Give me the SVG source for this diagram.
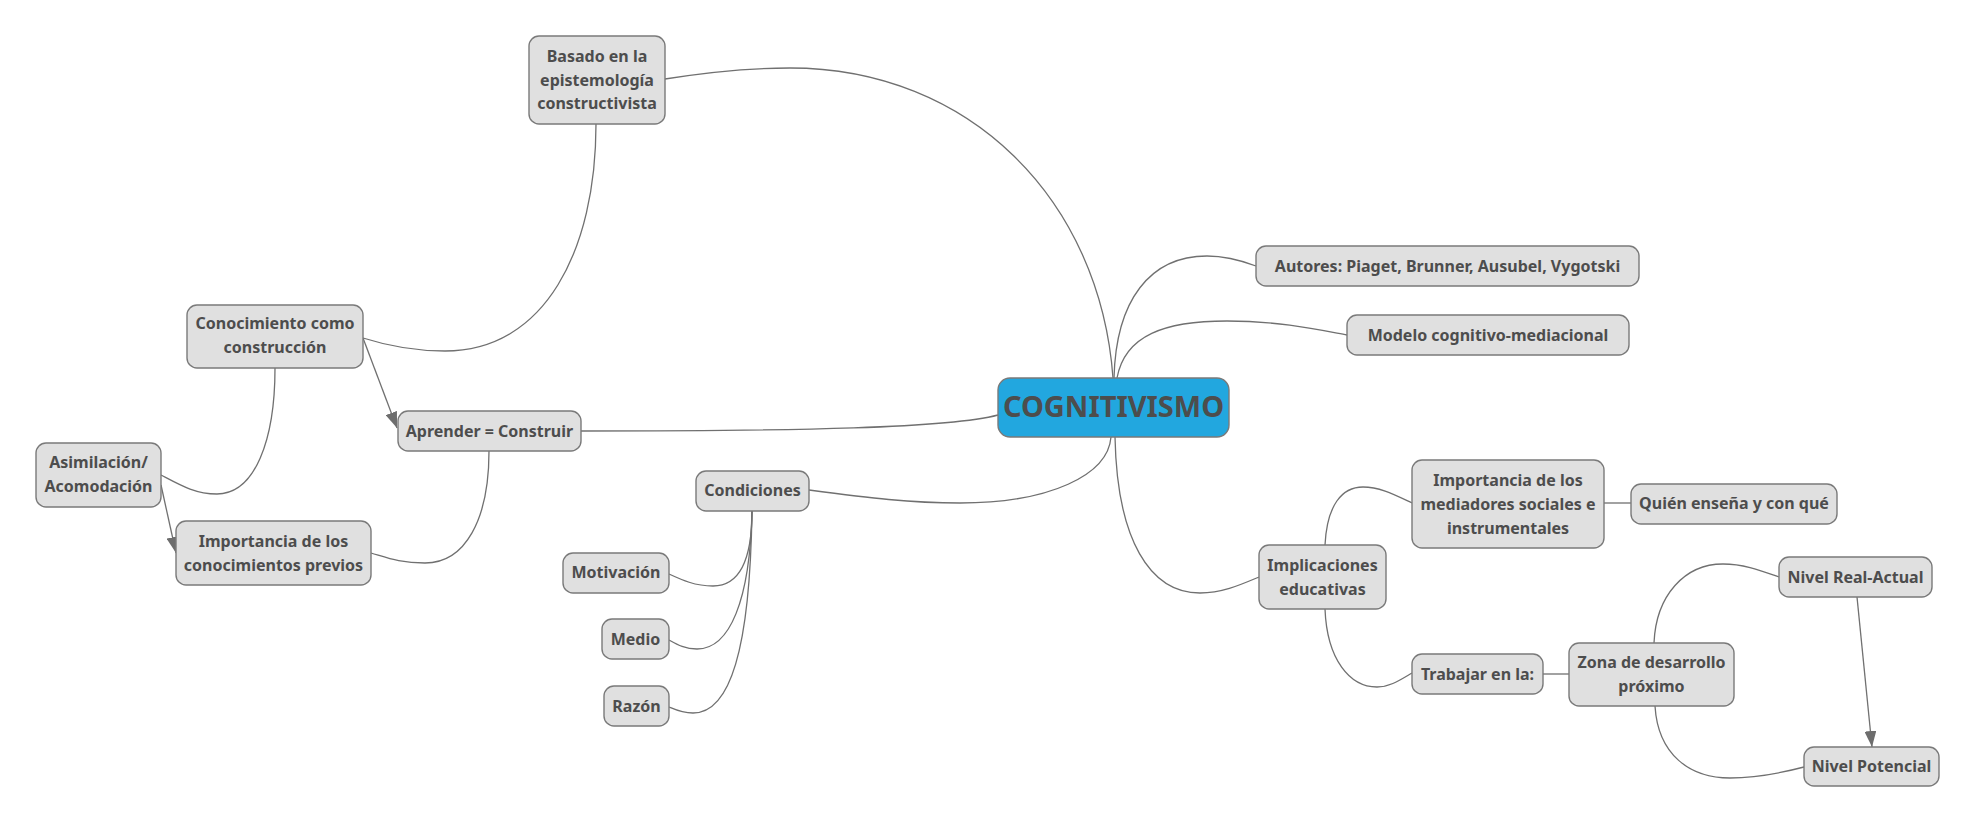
<svg xmlns="http://www.w3.org/2000/svg" width="1978" height="823" viewBox="0 0 1978 823">
<style>
.n rect{fill:#e0e0e0;stroke:#7a7a7a;stroke-width:1.4}
.n text{font-family:"Noto Sans","Open Sans","DejaVu Sans",sans-serif;font-weight:bold;font-size:16px;fill:#4d4d4d;text-anchor:middle}
#center rect{fill:#22a7df}
#center text{font-size:29px}
.c path{fill:none;stroke:#707070;stroke-width:1.3}
</style>
<defs>
<marker id="ah" viewBox="0 0 16 12" markerWidth="16" markerHeight="12" refX="16" refY="6" orient="auto" markerUnits="userSpaceOnUse">
<path d="M0,0 L16,6 L0,12 z" fill="#6d6d6d"/>
</marker>
</defs>
<rect width="1978" height="823" fill="#ffffff"/>
<g class="c" id="connectors">
<path d="M665,79 C715,71 750,68 790,68 C970,68 1100,200 1113,378"/>
<path d="M1114,378 C1116,300 1150,256 1207,256 C1225,256 1240,260 1256,266"/>
<path d="M1117,378 C1125,335 1165,321 1227,321 C1280,321 1320,330 1347,335"/>
<path d="M581,431 C800,431 950,428 998,415"/>
<path d="M596,124 C596,250 545,351 445,351 C410,351 385,345 363,338"/>
<path d="M275,368 C275,440 255,494 217,494 C195,494 180,485 161,475"/>
<path d="M489,451 C489,520 465,563 425,563 C400,563 388,558 371,553"/>
<path d="M809,490 C870,498 910,503 960,503 C1050,503 1108,475 1111,437"/>
<path d="M752,511 C752,560 740,586 713,586 C695,586 682,580 669,574"/>
<path d="M752,511 C750,600 730,649 697,649 C685,649 678,645 669,640"/>
<path d="M752,511 C750,650 730,713 693,713 C682,713 676,710 669,707"/>
<path d="M1115,437 C1117,540 1150,593 1200,593 C1222,593 1240,585 1259,577"/>
<path d="M1325,545 C1327,505 1342,487 1363,487 C1380,487 1395,495 1412,503"/>
<path d="M1325,609 C1327,660 1350,687 1377,687 C1390,687 1400,680 1412,673"/>
<path d="M1604,503 L1631,503"/>
<path d="M1543,674 L1569,674"/>
<path d="M1654,643 C1656,595 1685,564 1723,564 C1745,564 1762,571 1779,577"/>
<path d="M1655,706 C1658,755 1690,778 1730,778 C1760,778 1785,772 1804,767"/>
<path d="M363,338 L397,428" marker-end="url(#ah)"/>
<path d="M161,485 L176,553" marker-end="url(#ah)"/>
<path d="M1857,597 L1872,747" marker-end="url(#ah)"/>
</g>
<g class="n" id="center"><rect x="998" y="378" width="231" height="59" rx="12"/><text x="1113.5" y="416.5">COGNITIVISMO</text></g>
<g class="n" id="basado"><rect x="529" y="36" width="136" height="88" rx="10"/><text x="597" y="61.5">Basado en la</text><text x="597" y="85.5">epistemología</text><text x="597" y="108.5">constructivista</text></g>
<g class="n" id="autores"><rect x="1256" y="246" width="383" height="40" rx="10"/><text x="1447.5" y="271.5">Autores: Piaget, Brunner, Ausubel, Vygotski</text></g>
<g class="n" id="modelo"><rect x="1347" y="315" width="282" height="40" rx="10"/><text x="1488" y="340.5">Modelo cognitivo-mediacional</text></g>
<g class="n" id="conocimiento"><rect x="187" y="305" width="176" height="63" rx="10"/><text x="275" y="329">Conocimiento como</text><text x="275" y="353">construcción</text></g>
<g class="n" id="aprender"><rect x="398" y="411" width="183" height="40" rx="10"/><text x="489.5" y="436.5">Aprender = Construir</text></g>
<g class="n" id="asimilacion"><rect x="36" y="443" width="125" height="64" rx="10"/><text x="98.5" y="468">Asimilación/</text><text x="98.5" y="492">Acomodación</text></g>
<g class="n" id="previos"><rect x="176" y="521" width="195" height="64" rx="10"/><text x="273.5" y="546.5">Importancia de los</text><text x="273.5" y="570.5">conocimientos previos</text></g>
<g class="n" id="condiciones"><rect x="696" y="471" width="113" height="40" rx="10"/><text x="752.5" y="495.5">Condiciones</text></g>
<g class="n" id="motivacion"><rect x="563" y="553" width="106" height="40" rx="10"/><text x="616" y="578">Motivación</text></g>
<g class="n" id="medio"><rect x="602" y="619" width="67" height="40" rx="10"/><text x="635.5" y="644.5">Medio</text></g>
<g class="n" id="razon"><rect x="604" y="686" width="65" height="40" rx="10"/><text x="636.5" y="711.5">Razón</text></g>
<g class="n" id="implicaciones"><rect x="1259" y="545" width="127" height="64" rx="10"/><text x="1322.5" y="570.5">Implicaciones</text><text x="1322.5" y="594.5">educativas</text></g>
<g class="n" id="mediadores"><rect x="1412" y="460" width="192" height="88" rx="10"/><text x="1508" y="485.5">Importancia de los</text><text x="1508" y="509.5">mediadores sociales e</text><text x="1508" y="533.5">instrumentales</text></g>
<g class="n" id="quien"><rect x="1631" y="484" width="206" height="40" rx="10"/><text x="1734" y="509">Quién enseña y con qué</text></g>
<g class="n" id="trabajar"><rect x="1412" y="654" width="131" height="40" rx="10"/><text x="1477.5" y="679.5">Trabajar en la:</text></g>
<g class="n" id="zona"><rect x="1569" y="643" width="165" height="63" rx="10"/><text x="1651.5" y="668">Zona de desarrollo</text><text x="1651.5" y="692">próximo</text></g>
<g class="n" id="real"><rect x="1779" y="557" width="153" height="40" rx="10"/><text x="1855.5" y="582.5">Nivel Real-Actual</text></g>
<g class="n" id="potencial"><rect x="1804" y="747" width="135" height="39" rx="10"/><text x="1871.5" y="772">Nivel Potencial</text></g>
</svg>
